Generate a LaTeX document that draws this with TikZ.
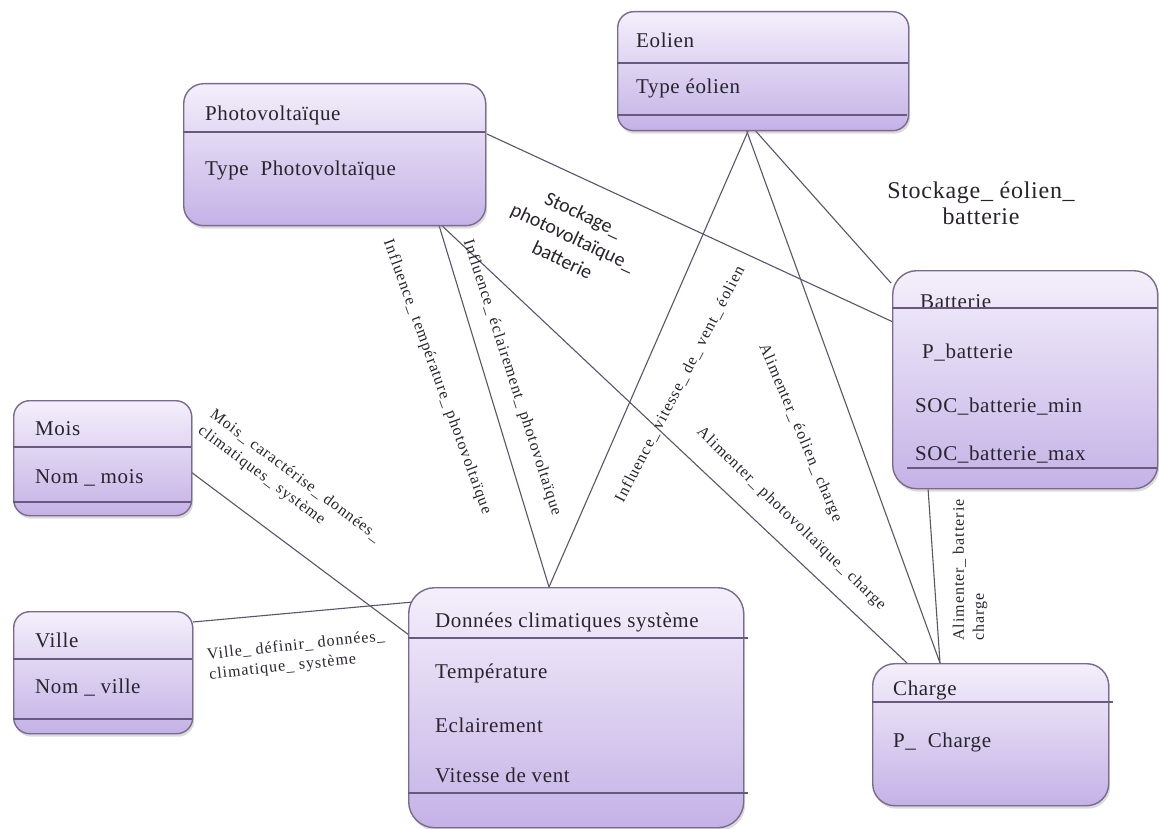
\documentclass[tikz,border=0pt]{standalone}
\usepackage{fontspec}
\newfontfamily\boxfont[LetterSpace=3]{Liberation Serif}
\newfontfamily\labfont[LetterSpace=6]{Liberation Serif}
\newfontfamily\bigserif[LetterSpace=3]{Liberation Serif}
\newfontfamily\calfont{Carlito}
\usetikzlibrary{shadows}
\definecolor{boxborder}{RGB}{122,106,142}
\definecolor{boxtop}{RGB}{244,239,251}
\definecolor{boxbot}{RGB}{196,178,230}
\definecolor{sepcol}{RGB}{104,90,126}
\definecolor{linkcol}{RGB}{92,84,108}
\definecolor{txt}{RGB}{40,36,44}
\tikzset{
  entity/.style={draw=boxborder, line width=1.4pt, rounded corners=20pt,
    top color=boxtop, bottom color=boxbot, inner sep=0pt, anchor=north west,
    drop shadow={opacity=0.28, shadow xshift=1.5pt, shadow yshift=-3pt}},
  sepline/.style={draw=sepcol, line width=1.1pt},
  attr/.style={anchor=west, inner sep=0pt, text=txt,
    font=\boxfont\fontsize{21}{24}\selectfont},
  link/.style={draw=linkcol, line width=1.1pt},
  lab/.style={inner sep=0pt, text=txt, font=\labfont\fontsize{16}{20}\selectfont},
}
\begin{document}
\begin{tikzpicture}[x=1pt,y=-1pt]
\useasboundingbox[fill=white] (0,0) rectangle (1159,829);

% connector end points
\coordinate (pvR) at (487,134);
\coordinate (pvS) at (438,222);
\coordinate (eolS1) at (749,129);
\coordinate (eolS2) at (746,129);
\coordinate (eolS3) at (753,128);
\coordinate (batW1) at (893,322);
\coordinate (batW2) at (891,283);
\coordinate (batS) at (928,488);
\coordinate (donN) at (549,587);
\coordinate (donW1) at (409,635);
\coordinate (donW2) at (413,602);
\coordinate (chgN1) at (940,663);
\coordinate (chgN2) at (907,663);
\coordinate (moisE) at (191,472);
\coordinate (villeE) at (193,622);

% connectors
\draw[link] (pvR) -- (batW1);
\draw[link] (eolS3) -- (batW2);
\draw[link] (eolS1) -- (donN);
\draw[link] (eolS2) -- (chgN1);
\draw[link] (pvS) -- (donN);
\draw[link] (pvS) -- (chgN2);
\draw[link] (batS) -- (chgN1);
\draw[link] (moisE) -- (donW1);
\draw[link] (villeE) -- (donW2);

% Photovoltaique
\node[entity, minimum width=302pt, minimum height=142pt] (pv) at (183,83) {};
\draw[sepline] (183,132) -- (485,132);
\node[attr] (pvT) at (205,115) {Photovoltaïque};
\node[attr] (pvA) at (205,170) {Type\ \ Photovoltaïque};

% Eolien
\node[entity, rounded corners=16pt, minimum width=291pt, minimum height=119pt] (eol) at (617,11) {};
\draw[sepline] (617,63) -- (908,63);
\draw[sepline] (618,115) -- (907,115);
\node[attr] (eolT) at (636,40) {Eolien};
\node[attr] (eolA) at (636,88) {Type éolien};

% Batterie
\node[entity, rounded corners=24pt, minimum width=265pt, minimum height=218pt] (bat) at (892,270) {};
\node[attr] (batT) at (920,302) {Batterie};
\draw[sepline] (892,308) -- (1157,308);
\draw[sepline] (907,468) -- (1157,468);
\node[attr] (batA1) at (922,353) {P\_batterie};
\node[attr] (batA2) at (915,407) {SOC\_batterie\_min};
\node[attr] (batA3) at (915,455) {SOC\_batterie\_max};

% Mois
\node[entity, rounded corners=16pt, minimum width=178pt, minimum height=115pt] (mois) at (13,400) {};
\draw[sepline] (13,447) -- (191,447);
\draw[sepline] (13,502) -- (191,502);
\node[attr] (moisT) at (35,429) {Mois};
\node[attr] (moisA) at (35,478) {Nom \_ mois};

% Ville
\node[entity, rounded corners=16pt, minimum width=179pt, minimum height=122pt] (ville) at (13,611) {};
\draw[sepline] (13,659) -- (192,659);
\draw[sepline] (13,719) -- (192,719);
\node[attr] (villeT) at (35,640) {Ville};
\node[attr] (villeA) at (35,688) {Nom \_ ville};

% Donnees climatiques
\node[entity, rounded corners=26pt, minimum width=335pt, minimum height=240pt] (don) at (408,587) {};
\draw[sepline] (408,638) -- (748,638);
\draw[sepline] (408,793) -- (748,793);
\node[attr] (donT) at (435,622) {Données climatiques système};
\node[attr] (donA1) at (435,673) {Température};
\node[attr] (donA2) at (435,725) {Eclairement};
\node[attr] (donA3) at (435,775) {Vitesse de vent};

% Charge
\node[entity, rounded corners=22pt, minimum width=236pt, minimum height=142pt] (chg) at (872,663) {};
\draw[sepline] (872,702) -- (1113,702);
\node[attr] (chgT) at (893,690) {Charge};
\node[attr] (chgA) at (893,742) {P\_\ \ Charge};

% association labels
\node[inner sep=0pt, text=txt, align=center, rotate=-25,
      font=\calfont\fontsize{20}{25}\selectfont] (l1) at (573,237)
      {Stockage\_\\photovoltaïque\_\\batterie};
\node[inner sep=0pt, text=txt, align=center,
      font=\bigserif\fontsize{24}{26}\selectfont] (l2) at (981,203)
      {Stockage\_ éolien\_\\batterie};
\node[lab, rotate=-70] (l3) at (437,377) {Influence\_ température\_ photovoltaïque};
\node[lab, rotate=-72] (l4) at (512,378) {Influence\_ éclairement\_ photovoltaïque};
\node[lab, rotate=62.6] (l5) at (680,384) {Influence\_ vitesse\_ de\_ vent\_ éolien};
\node[lab, rotate=-67] (l6) at (800,433) {Alimenter\_ éolien\_ charge};
\node[lab, rotate=-44] (l7) at (791,519) {Alimenter\_ photovoltaïque\_ charge};
\node[lab, rotate=90, align=left] (l8) at (970,570) {Alimenter\_ batterie\\charge};
\node[lab, rotate=-37, align=left] (l9) at (289,484)
      {Mois\_ caractérise\_ données\_\\climatiques\_ système};
\node[lab, rotate=6, align=left] (l10) at (297,656)
      {Ville\_ définir\_ données\_\\climatique\_ système};
\end{tikzpicture}
\end{document}
